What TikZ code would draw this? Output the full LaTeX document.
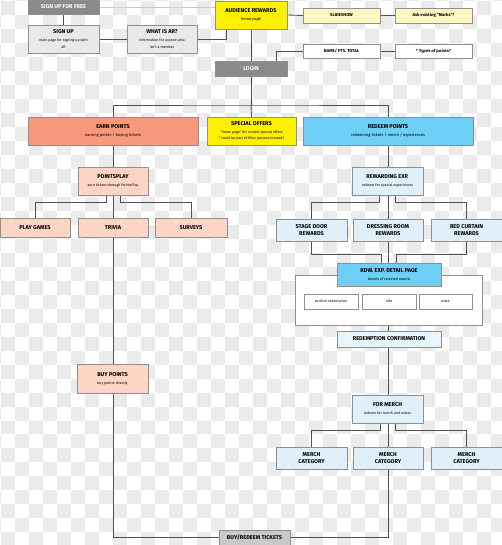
\documentclass[tikz,border=0pt]{standalone}
\usepackage{fontspec}
\setmainfont{Fira Sans}
\usetikzlibrary{calc}
\pgfdeclarelayer{checker}
\pgfdeclarelayer{background}
\pgfsetlayers{checker,background,main}
\definecolor{dkgray}{HTML}{8A8A8A}
\definecolor{ltgray}{HTML}{E9E9E9}
\definecolor{ylw}{HTML}{FFF000}
\definecolor{ltylw}{HTML}{FFF7C2}
\definecolor{salmon}{HTML}{F7987D}
\definecolor{ltsalmon}{HTML}{FDD5C4}
\definecolor{blu}{HTML}{6DCFF6}
\definecolor{ltblu}{HTML}{DFF0FA}
\definecolor{paleblu}{HTML}{E8F5FC}
\definecolor{midgray}{HTML}{C9C9C9}
\definecolor{bordergray}{HTML}{8F8F8F}
\definecolor{linegray}{HTML}{505050}
\definecolor{checkgray}{HTML}{EBEBEB}
\newcommand\ttl{\fontsize{4.2}{5}\selectfont\bfseries}
\newcommand\sbt{\fontsize{3}{3.6}\selectfont\mdseries}
\newcommand\tny{\fontsize{2.7}{3.2}\selectfont\mdseries}
\newcommand\bx[7]{\node[#6,anchor=north west,minimum width={(#4-#2)*0.75pt},minimum height={(#5-#3)*0.75pt}] (#1) at (#2,#3) {#7};}
\tikzset{
  boxbase/.style={draw=bordergray,line width=0.45pt,inner sep=0pt,outer sep=0pt,align=center,font=\ttl,text=black},
  darkbox/.style={boxbase,fill=dkgray,text=white},
  greybox/.style={boxbase,fill=ltgray},
  yellowbox/.style={boxbase,fill=ylw},
  paleyellow/.style={boxbase,fill=ltylw},
  whitebox/.style={boxbase,fill=white},
  salmonbox/.style={boxbase,fill=salmon},
  peachbox/.style={boxbase,fill=ltsalmon},
  bluebox/.style={boxbase,fill=blu},
  ltbluebox/.style={boxbase,fill=ltblu},
  palebox/.style={boxbase,fill=paleblu},
  midbox/.style={boxbase,fill=midgray},
  conn/.style={draw=linegray,line width=0.65pt},
  faint/.style={draw=checkgray!70!gray,line width=0.6pt}
}
\begin{document}
\begin{tikzpicture}[x=0.75pt,y=-0.75pt]
\useasboundingbox (0,0) rectangle (502,545);
\clip (0,0) rectangle (502,545);
\begin{pgfonlayer}{checker}
\fill[white] (0,0) rectangle (502,545);
\foreach \i in {-1,...,36}{
  \foreach \j in {-1,...,39}{
    \pgfmathtruncatemacro\pp{mod(\i+\j+100,2)}
    \ifnum\pp=0
      \fill[checkgray] ({1.3+\i*13.98},{1.1+\j*13.98}) rectangle ++(13.98,13.98);
    \fi
  }
}
\end{pgfonlayer}

% top row
\bx{signfree}{28}{0}{99}{14}{darkbox}{SIGN UP FOR FREE}
\bx{signup}{28}{25}{99}{53}{greybox}{SIGN UP\\[1pt]{\tny main page for signing up with}\\{\tny AR}}
\bx{whatis}{127}{25}{197}{53}{greybox}{WHAT IS AR?\\[1pt]{\tny information for anyone who}\\{\tny isn't a member}}
\bx{ar}{215}{1}{287}{29}{yellowbox}{AUDIENCE REWARDS\\[1pt]{\sbt home page}}
\bx{slide}{303}{8}{380}{23}{paleyellow}{{\fontsize{3.2}{4}\selectfont SLIDESHOW}}
\bx{ask}{395}{8}{472}{23}{paleyellow}{{\fontsize{3.2}{4}\selectfont Ask existing ``Marks''?}}
\bx{login}{215}{61}{287}{76}{darkbox}{LOGIN}
\bx{name}{303}{44}{380}{58}{whitebox}{{\fontsize{3.2}{4}\selectfont NAME/ PTS. TOTAL}}
\bx{types}{395}{44}{472}{58}{whitebox}{{\fontsize{3.2}{4}\selectfont * Types of points?}}

% second level
\bx{earn}{28}{117}{198}{145}{salmonbox}{EARN POINTS\\[1pt]{\sbt earning points / buying tickets}}
\bx{special}{207}{117}{296}{145}{yellowbox}{SPECIAL OFFERS\\[1pt]{\tny ``home page'' for current special offers}\\{\tny * could be part of filter process instead?}}
\bx{redeem}{303}{117}{473}{145}{bluebox}{REDEEM POINTS\\[1pt]{\sbt redeeming tickets / merch / experiences}}

% earn column
\bx{pointsplay}{78}{167}{148}{195}{peachbox}{POINTSPLAY\\[1pt]{\tny earn tickets through PointsPlay}}
\bx{playgames}{0}{218}{70}{237}{peachbox}{PLAY GAMES}
\bx{trivia}{78}{218}{148}{237}{peachbox}{TRIVIA}
\bx{surveys}{155}{218}{227}{237}{peachbox}{SURVEYS}
\bx{buypoints}{77}{364}{148}{393}{peachbox}{BUY POINTS\\[1pt]{\tny buy points directly}}

% redeem column
\bx{rewarding}{352}{167}{423}{195}{ltbluebox}{REWARDING EXP.\\[1pt]{\tny redeem for special experiences}}
\bx{stage}{276}{219}{347}{241}{ltbluebox}{STAGE DOOR\\REWARDS}
\bx{dressing}{353}{219}{423}{241}{ltbluebox}{DRESSING ROOM\\REWARDS}
\bx{redcurtain}{431}{219}{502}{241}{ltbluebox}{RED CURTAIN\\REWARDS}
\bx{container}{295}{275}{482}{325}{whitebox}{}
\bx{detail}{337}{263}{441}{286}{bluebox}{RDW. EXP. DETAIL PAGE\\[1pt]{\tny details of selected reward}}
\bx{confirm}{304}{294}{358}{309}{whitebox}{{\tny confirm redemption}}
\bx{info}{362}{294}{416}{309}{whitebox}{{\tny info}}
\bx{extra}{419}{294}{472}{309}{whitebox}{{\tny extra}}
\bx{redconf}{337}{331}{441}{347}{palebox}{REDEMPTION CONFIRMATION}
\bx{formerch}{352}{395}{423}{423}{ltbluebox}{FOR MERCH\\[1pt]{\tny redeem for merch and extras}}
\bx{merchA}{276}{447}{347}{469}{ltbluebox}{MERCH\\CATEGORY}
\bx{merchB}{353}{447}{423}{469}{ltbluebox}{MERCH\\CATEGORY}
\bx{merchC}{431}{447}{502}{469}{ltbluebox}{MERCH\\CATEGORY}
\bx{buyredeem}{219}{530}{290}{545}{midbox}{BUY/REDEEM TICKETS}

\coordinate (hub) at (251,105);

\begin{pgfonlayer}{background}
\draw[faint] (signfree.east) -- (signfree.east -| ar.west);
\draw[conn] (signfree.south) -- (signup.north);
\draw[conn] (signup.east) -- (whatis.west);
\draw[conn] (whatis.east) -| ($(ar.south)+(-25,0)$);
\draw[conn] (ar.east) -- (slide.west);
\draw[conn] (slide.east) -- (ask.west);
\draw[conn] (ar.south) -- (login.north);
\draw[conn] ($(login.north)+(25,0)$) |- (name.west);
\draw[conn] (name.east) -- (types.west);
\draw[conn] (login.south) -- (hub);
\draw[conn] (hub) -- (special.north);
\draw[conn] (earn.north) |- (hub) -| (redeem.north);
\draw[conn] (earn.south) |- (buyredeem.west);
\draw[conn] (redeem.south) |- (buyredeem.east);
\draw[conn] ($(pointsplay.south)+(-7,0)$) |- ($(playgames.north)+(0,-16)$) -- (playgames.north);
\draw[conn] ($(pointsplay.south)+(7,0)$) |- ($(surveys.north)+(0,-16)$) -- (surveys.north);
\draw[conn] ($(rewarding.south)+(-8,0)$) |- ($(stage.north)+(0,-17)$) -- (stage.north);
\draw[conn] ($(rewarding.south)+(8,0)$) |- ($(redcurtain.north)+(0,-17)$) -- (redcurtain.north);
\draw[conn] (stage.south) |- ($(detail.north)+(-8,-9)$) -- ($(detail.north)+(-8,0)$);
\draw[conn] (redcurtain.south) |- ($(detail.north)+(7,-9)$) -- ($(detail.north)+(7,0)$);
\draw[conn] ($(formerch.south)+(-7,0)$) |- ($(merchA.north)+(0,-17)$) -- (merchA.north);
\draw[conn] ($(formerch.south)+(8,0)$) |- ($(merchC.north)+(0,-17)$) -- (merchC.north);
\end{pgfonlayer}
\end{tikzpicture}
\end{document}
